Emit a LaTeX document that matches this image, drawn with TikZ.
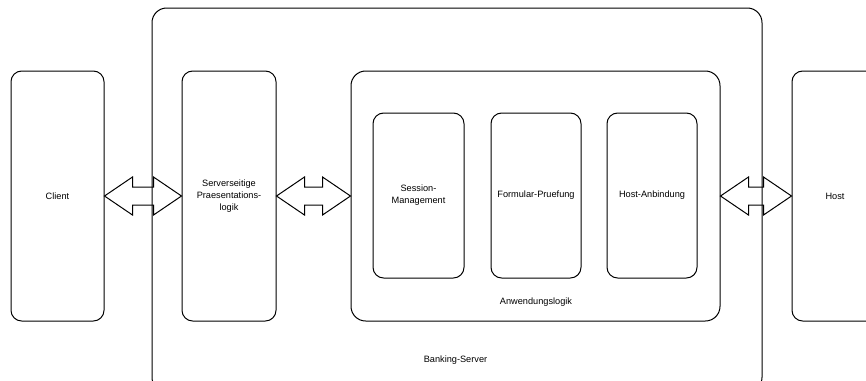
\documentclass[tikz,border=0pt]{standalone}
\usepackage{fontspec}
\setmainfont{Liberation Sans}
\usetikzlibrary{calc}
\tikzset{
  box/.style={draw=black, line width=0.75pt, rectangle, inner sep=0pt, align=center},
  bigbox/.style={box, rounded corners=11pt},
  midbox/.style={box, rounded corners=8pt},
  txt/.style={inner sep=0pt, align=center},
  arrowstyle/.style={draw=black, line width=0.75pt, line join=miter},
}
\newcommand\dblarrow[2]{%
  \draw[arrowstyle] (#1) -- ($(#1)+(28,-19)$) -- ($(#1)+(28,-9)$) -- ($(#2)+(-28,-9)$) -- ($(#2)+(-28,-19)$) -- (#2) -- ($(#2)+(-28,19)$) -- ($(#2)+(-28,9)$) -- ($(#1)+(28,9)$) -- ($(#1)+(28,19)$) -- cycle;}
\begin{document}
\begin{tikzpicture}[x=0.75pt, y=-0.75pt, font=\fontsize{6.9}{9}\selectfont]
\useasboundingbox (0,0) rectangle (866,380);
\clip (0,0) rectangle (866,380);
% Banking server
\node[bigbox, minimum width=610*0.75pt, minimum height=384*0.75pt] (bank) at (457,200) {};
\node[txt] (banklbl) at (455.5,360) {Banking-Server};
% Client
\node[midbox, minimum width=93*0.75pt, minimum height=250*0.75pt] (client) at (57.5,196) {Client};
% Presentation
\node[midbox, minimum width=94*0.75pt, minimum height=250*0.75pt] (pres) at (229,196) {Serverseitige\\Praesentations-\\logik};
% Anwendungslogik
\node[bigbox, minimum width=369*0.75pt, minimum height=250*0.75pt] (anw) at (535.5,196) {};
\node[txt] (anwlbl) at (536,302) {Anwendungslogik};
% inner boxes
\node[midbox, minimum width=91*0.75pt, minimum height=165*0.75pt] (sess) at (418.5,195.5) {Session-\\Management};
\node[midbox, minimum width=90*0.75pt, minimum height=165*0.75pt] (form) at (536,195.5) {Formular-Pruefung};
\node[midbox, minimum width=90*0.75pt, minimum height=165*0.75pt] (hanb) at (652,195.5) {Host-Anbindung};
% Host
\node[midbox, minimum width=86*0.75pt, minimum height=250*0.75pt] (host) at (835,196) {Host};
% arrows
\dblarrow{client.east}{pres.west}
\dblarrow{pres.east}{anw.west}
\dblarrow{anw.east}{host.west}
\end{tikzpicture}
\end{document}
